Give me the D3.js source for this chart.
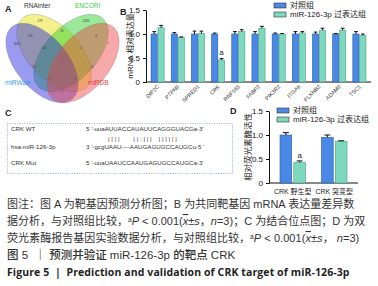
<!DOCTYPE html>
<html>
<head>
<meta charset="utf-8">
<script src="https://cdn.jsdelivr.net/npm/d3@7"></script>
<style>
  body { margin: 0; background: #fff; }
  text { font-family: "Liberation Sans", Arial, "Noto Sans CJK SC", sans-serif; fill: #222; }
  .cjk { font-family: "Liberation Sans", "Noto Sans CJK SC", sans-serif; }
</style>
</head>
<body>
<div id="fig"></div>
<script>
// ---- data ----
const vennSets = ['RNAinter', 'ENCORI', 'miRWalk', 'miRDB'];
const vennCounts = ['479', '2486', '3083', '7', '109', '8', '36', '123', '2', '96', '11', '1', '1', '2', '2'];

const genes = ['DIP2C', 'PTPN9', 'SPRED1', 'CRK', 'RNF165', 'FABP2', 'PIK3R2', 'ITGA6', 'PLXNB2', 'ADAM9', 'TSC1'];
const ctrlMean = [1.00, 1.00, 1.00, 1.00, 1.00, 1.00, 1.00, 1.00, 1.00, 1.00, 1.00];
const ctrlErr  = [0.05, 0.03, 0.06, 0.02, 0.05, 0.05, 0.02, 0.05, 0.04, 0.01, 0.05];
const overMean = [1.13, 0.93, 1.01, 0.46, 1.05, 1.12, 1.00, 1.02, 1.08, 1.08, 0.97];
const overErr  = [0.05, 0.01, 0.05, 0.03, 0.04, 0.04, 0.01, 0.03, 0.04, 0.04, 0.03];

const lucGroups = ['CRK 野生型', 'CRK 突变型'];
const lucCtrl = [1.00, 0.95];
const lucCtrlErr = [0.05, 0.05];
const lucOver = [0.43, 0.87];
const lucOverErr = [0.03, 0.01];

const seriesNames = ['对照组', 'miR-126-3p 过表达组'];
const yTicks = [0, 0.5, 1.0, 1.5];

const seqRows = [
  ['CRK WT', "5 '-uuaAUUACCAUAUUCAGGGUACGa-3'"],
  ['hsa-miR-126-3p', "3 '-gcgUAAU----AAUGAGUGCCAUGCu-5 '"],
  ['CRK  Mut', "5 '-uuaUAAUCCAAUGAGUGCCAUGCa-3'"]
];
const pairLine = '| | | |        | | : | | |    | | | | | |';

const blue = '#4a88e6', green = '#7dd9bd';

const W = 378, H = 286;
const svg = d3.select('#fig').append('svg')
  .attr('width', W).attr('height', H)
  .style('background', '#fff');

// ---- panel A: venn (shape geometry in px) ----
const ellipses = [
  { name: 'RNAinter', cx: 54, cy: 53, rx: 47, ry: 26, rot: 47, col: '#e6e000' },
  { name: 'ENCORI',   cx: 71, cy: 53, rx: 47, ry: 26, rot: -47, col: '#22cc22' },
  { name: 'miRWalk',  cx: 42, cy: 63, rx: 47, ry: 26, rot: 50, col: '#2020e0' },
  { name: 'miRDB',    cx: 83, cy: 63, rx: 47, ry: 26, rot: -50, col: '#ee4040' }
];
const gA = svg.append('g');
gA.selectAll('ellipse').data(ellipses).enter().append('ellipse')
  .attr('transform', d => `translate(${d.cx},${d.cy}) rotate(${d.rot})`)
  .attr('rx', d => d.rx)
  .attr('ry', d => d.ry)
  .attr('fill', d => d.col)
  .attr('fill-opacity', 0.45)
  .attr('stroke', '#777')
  .attr('stroke-width', 0.3);

// region label anchors
const regionPos = [[40, 22], [86, 22], [17, 45], [108, 45], [30, 37], [96, 37], [62, 32], [44, 49],
                   [81, 49], [34, 68], [92, 68], [62, 60], [50, 80], [75, 80], [62, 93]];
gA.selectAll('.cnt').data(vennCounts).enter().append('text')
  .attr('x', (d, i) => regionPos[i][0])
  .attr('y', (d, i) => regionPos[i][1])
  .attr('text-anchor', 'middle')
  .attr('font-size', 3)
  .style('fill', '#444')
  .text(d => d);

svg.append('text').attr('x', 5).attr('y', 12).attr('font-size', 9).attr('font-weight', 'bold').text('A');
const setLabels = [
  { t: 'RNAinter', x: 24, y: 8, c: '#333' },
  { t: 'ENCORI', x: 75, y: 8, c: '#44cc44' },
  { t: 'miRWalk', x: 5, y: 85, c: '#3a9cf0' },
  { t: 'miRDB', x: 88, y: 85, c: '#e53a3a' }
];
svg.selectAll('.setlab').data(setLabels).enter().append('text')
  .attr('x', d => d.x).attr('y', d => d.y)
  .attr('font-size', 6.5)
  .style('fill', d => d.c)
  .text(d => d.t);

// ---- generic grouped bar panel ----
function barPanel(opt) {
  const g = svg.append('g');
  const y = d3.scaleLinear().domain([0, 1.5]).range([opt.y0, opt.y1]);
  const x = d3.scaleBand().domain(opt.cats).range([opt.x0, opt.x1])
    .paddingInner(opt.pin).paddingOuter(opt.pout);
  const xs = d3.scaleBand().domain([0, 1]).range([0, x.bandwidth()]).paddingInner(opt.gap);

  g.append('g')
    .attr('transform', `translate(${opt.x0},0)`)
    .call(d3.axisLeft(y).tickValues(yTicks).tickSize(3).tickSizeOuter(0)
      .tickFormat(d => d === 0 ? '0' : d3.format('.1f')(d)))
    .call(a => a.selectAll('text').attr('font-size', opt.tickFont).attr('font-family', 'Liberation Sans').style('fill', '#111'))
    .call(a => a.selectAll('line,path').attr('stroke', '#111').attr('stroke-width', 1));

  g.append('line')
    .attr('x1', opt.x0).attr('x2', opt.x1)
    .attr('y1', y(0)).attr('y2', y(0))
    .attr('stroke', '#111').attr('stroke-width', 1);

  const rows = opt.cats.map((c, i) => [
    { c, s: 0, v: opt.a[i], e: opt.ae[i] },
    { c, s: 1, v: opt.b[i], e: opt.be[i] }
  ]).flat();

  g.selectAll('.bar').data(rows).enter().append('rect')
    .attr('x', d => x(d.c) + xs(d.s))
    .attr('y', d => y(d.v))
    .attr('width', xs.bandwidth())
    .attr('height', d => y(0) - y(d.v))
    .attr('fill', d => d.s === 0 ? blue : green)
    .attr('stroke', d => d.s === 0 ? '#2c5aa0' : '#4f9e88')
    .attr('stroke-width', 0.6);

  const cap = Math.min(3, xs.bandwidth() * 0.3);
  const eb = g.selectAll('.err').data(rows).enter().append('g');
  eb.append('line')
    .attr('x1', d => x(d.c) + xs(d.s) + xs.bandwidth() / 2)
    .attr('x2', d => x(d.c) + xs(d.s) + xs.bandwidth() / 2)
    .attr('y1', d => y(d.v)).attr('y2', d => y(d.v + d.e))
    .attr('stroke', '#111').attr('stroke-width', 1);
  eb.append('line')
    .attr('x1', d => x(d.c) + xs(d.s) + xs.bandwidth() / 2 - cap)
    .attr('x2', d => x(d.c) + xs(d.s) + xs.bandwidth() / 2 + cap)
    .attr('y1', d => y(d.v + d.e)).attr('y2', d => y(d.v + d.e))
    .attr('stroke', '#111').attr('stroke-width', 1);

  // significance mark on the CRK treated bar
  g.selectAll('.sig').data(rows.filter(d => d.s === 1 && d.v < 0.5)).enter().append('text')
    .attr('x', d => x(d.c) + xs(d.s) + xs.bandwidth() / 2)
    .attr('y', d => y(d.v + d.e) - 3)
    .attr('text-anchor', 'middle')
    .attr('font-size', 8)
    .text('a');

  return { g, x, y };
}

// ---- panel B ----
const pB = barPanel({
  cats: genes, a: ctrlMean, ae: ctrlErr, b: overMean, be: overErr,
  x0: 146, x1: 371, y0: 82, y1: 10, pin: 0.35, pout: 0.25, gap: 0.1, tickFont: 8
});
pB.g.selectAll('.xl').data(genes).enter().append('text')
  .attr('transform', d => `translate(${pB.x(d) + pB.x.bandwidth() / 2 + 2},${87}) rotate(-45)`)
  .attr('text-anchor', 'end')
  .attr('font-size', 5.5)
  .style('fill', '#333')
  .text(d => d);
svg.append('text').attr('x', 120).attr('y', 15).attr('font-size', 9).attr('font-weight', 'bold').text('B');
svg.append('text').attr('class', 'cjk')
  .attr('transform', 'translate(133,46) rotate(-90)')
  .attr('text-anchor', 'middle').attr('font-size', 8)
  .text('mRNA 相对表达量');

function legend(x, y) {
  const lg = svg.append('g').attr('transform', `translate(${x},${y})`);
  const it = lg.selectAll('g').data(seriesNames).enter().append('g')
    .attr('transform', (d, i) => `translate(0,${i * 9})`);
  it.append('rect').attr('width', 12).attr('height', 5)
    .attr('fill', (d, i) => i === 0 ? blue : green)
    .attr('stroke', '#333').attr('stroke-width', 0.6);
  it.append('text').attr('class', 'cjk').attr('x', 16).attr('y', 5)
    .attr('font-size', 8).text(d => d);
}
legend(274, 3);

// ---- panel C ----
svg.append('text').attr('x', 5).attr('y', 116).attr('font-size', 9).attr('font-weight', 'bold').text('C');
svg.append('rect').attr('x', 7.5).attr('y', 123.5).attr('width', 225).attr('height', 50)
  .attr('fill', 'none').attr('stroke', '#6f8fb8').attr('stroke-width', 0.6)
  .attr('stroke-dasharray', '1.2,1.2');
const rowY = [131, 149, 165];
svg.selectAll('.seqlab').data(seqRows).enter().append('text')
  .attr('x', 11).attr('y', (d, i) => rowY[i])
  .attr('font-size', 6.2).style('fill', '#333')
  .text(d => d[0]);
svg.selectAll('.seq').data(seqRows).enter().append('text')
  .attr('x', 86).attr('y', (d, i) => rowY[i])
  .attr('font-size', 6.2).style('fill', '#333')
  .text(d => d[1]);
svg.append('text').attr('x', 108).attr('y', 141)
  .attr('font-size', 6.2).style('fill', '#333')
  .attr('xml:space', 'preserve').style('white-space', 'pre')
  .text(pairLine);

// ---- panel D ----
const pD = barPanel({
  cats: lucGroups, a: lucCtrl, ae: lucCtrlErr, b: lucOver, be: lucOverErr,
  x0: 269, x1: 358, y0: 183, y1: 111, pin: 0.386, pout: 0.265, gap: 0.15, tickFont: 8
});
pD.g.selectAll('.xl').data(lucGroups).enter().append('text').attr('class', 'cjk')
  .attr('x', d => pD.x(d) + pD.x.bandwidth() / 2)
  .attr('y', 194)
  .attr('text-anchor', 'middle')
  .attr('font-size', 7)
  .text(d => d);
svg.append('text').attr('x', 230).attr('y', 114).attr('font-size', 9).attr('font-weight', 'bold').text('D');
svg.append('text').attr('class', 'cjk')
  .attr('transform', 'translate(251,147) rotate(-90)')
  .attr('text-anchor', 'middle').attr('font-size', 8.5)
  .text('相对荧光素酶活性');
legend(277, 108);

// ---- caption ----
function capLine(y, parts, opts) {
  const t = svg.append('text').attr('class', 'cjk').attr('x', 7).attr('y', y)
    .attr('font-size', opts.size).attr('font-weight', opts.weight || 'normal')
    .attr('xml:space', 'preserve').style('white-space', 'pre');
  if (opts.family) t.style('font-family', opts.family);
  if (opts.ls) t.attr('letter-spacing', opts.ls);
  parts.forEach(p => {
    const s = t.append('tspan').text(p.t).style('fill', opts.col || '#333');
    if (p.i) s.attr('font-style', 'italic');
    if (p.sup) s.attr('baseline-shift', 'super').attr('font-size', opts.size * 0.6);
    if (p.o) s.attr('text-decoration', 'overline');
  });
}
capLine(208, [{ t: '图注：图 A 为靶基因预测分析图；B 为共同靶基因 mRNA 表达量差异数' }], { size: 11 });
capLine(225, [{ t: '据分析，与对照组比较，' }, { t: 'a', sup: 1 }, { t: 'P', i: 1 }, { t: ' < 0.001(' },
  { t: 'x', i: 1, o: 1 }, { t: '±' }, { t: 's', i: 1 }, { t: '，' }, { t: 'n', i: 1 }, { t: '=3)；C 为结合位点图；D 为双' }], { size: 11 });
capLine(242, [{ t: '荧光素酶报告基因实验数据分析，与对照组比较，' }, { t: 'a', sup: 1 }, { t: 'P', i: 1 }, { t: ' < 0.001(' },
  { t: 'x', i: 1, o: 1 }, { t: '±' }, { t: 's', i: 1 }, { t: '， ' }, { t: 'n', i: 1 }, { t: '=3)' }], { size: 11, ls: 0.05 });
capLine(259, [{ t: '图 5  ｜ 预测并验证 miR-126-3p 的靶点 CRK' }], { size: 11.5, weight: 500 });
capLine(276, [{ t: 'Figure 5  |  Prediction and validation of CRK target of miR-126-3p' }],
  { size: 10.5, weight: 'bold', col: '#222', family: '"Open Sans", sans-serif', ls: 0.1 });
</script>
</body>
</html>
